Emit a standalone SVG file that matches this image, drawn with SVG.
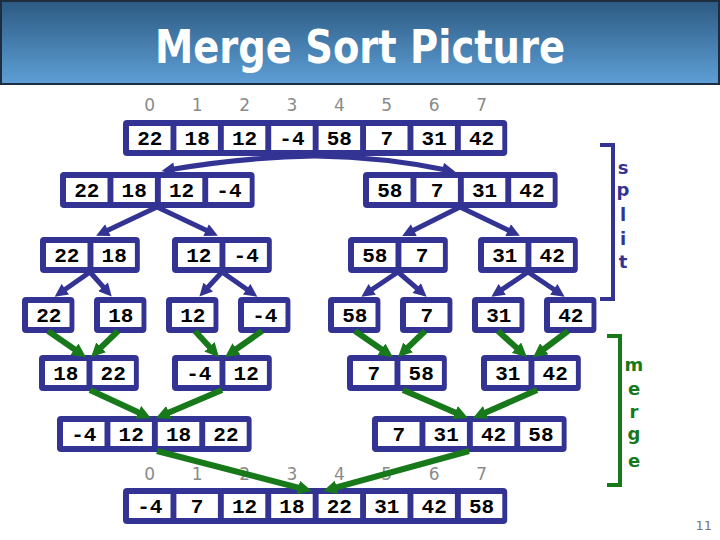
<svg xmlns="http://www.w3.org/2000/svg" width="720" height="540" viewBox="0 0 720 540">
<defs>
<linearGradient id="tb" x1="0" y1="0" x2="0" y2="1">
<stop offset="0" stop-color="#2c5a82"/>
<stop offset="1" stop-color="#5e9fd6"/>
</linearGradient>
<marker id="an" viewBox="0 0 10 10" refX="5" refY="5" markerWidth="14" markerHeight="13" markerUnits="userSpaceOnUse" orient="auto">
<path d="M0,0 L10,5 L0,10 z" fill="#333394"/>
</marker>
<marker id="ag" viewBox="0 0 10 10" refX="5" refY="5" markerWidth="14" markerHeight="14" markerUnits="userSpaceOnUse" orient="auto">
<path d="M0,0 L10,5 L0,10 z" fill="#18791b"/>
</marker>
</defs>
<style>
.o{fill:#333394}
.w{fill:#fff}
.n{font-family:"Liberation Mono","Courier New",monospace;font-weight:bold;font-size:21px;fill:#000;text-anchor:middle}
.ix{font-family:"DejaVu Sans",Verdana,sans-serif;font-size:17px;fill:#8a8a8a;text-anchor:middle}
.sp{stroke:#333394;stroke-width:5;fill:none}
.mg{stroke:#18791b;stroke-width:6;fill:none}
.lbl{font-family:"DejaVu Sans",Verdana,sans-serif;font-weight:bold;font-size:18px;text-anchor:middle}
</style>
<rect width="720" height="540" fill="#fff"/>
<g id="title">
<rect x="1" y="1" width="718" height="83" fill="url(#tb)" stroke="#1d2c3e" stroke-width="2"/>
<text x="360" y="63" font-family="'DejaVu Sans Condensed','DejaVu Sans',sans-serif" font-stretch="condensed" font-weight="bold" font-size="47" fill="#fff" text-anchor="middle" textLength="410" lengthAdjust="spacingAndGlyphs">Merge Sort Picture</text>
</g>

<g id="top-index" class="ix">
<text x="149.75" y="111">0</text><text x="197.15" y="111">1</text><text x="244.55" y="111">2</text><text x="291.95" y="111">3</text><text x="339.35" y="111">4</text><text x="386.75" y="111">5</text><text x="434.15" y="111">6</text><text x="481.55" y="111">7</text>
</g>

<g id="arr-top" transform="translate(123,120)">
<rect class="o" width="384.2" height="36" rx="4"/>
<rect class="w" x="6" y="6" width="41.5" height="24"/><rect class="w" x="53.4" y="6" width="41.5" height="24"/><rect class="w" x="100.8" y="6" width="41.5" height="24"/><rect class="w" x="148.2" y="6" width="41.5" height="24"/><rect class="w" x="195.6" y="6" width="41.5" height="24"/><rect class="w" x="243" y="6" width="41.5" height="24"/><rect class="w" x="290.4" y="6" width="41.5" height="24"/><rect class="w" x="337.8" y="6" width="41.5" height="24"/>
<text class="n" x="26.75" y="24.5">22</text><text class="n" x="74.15" y="24.5">18</text><text class="n" x="121.55" y="24.5">12</text><text class="n" x="168.95" y="24.5">-4</text><text class="n" x="216.35" y="24.5">58</text><text class="n" x="263.75" y="24.5">7</text><text class="n" x="311.15" y="24.5">31</text><text class="n" x="358.55" y="24.5">42</text>
</g>

<g id="arr-L4" transform="translate(60,172)">
<rect class="o" width="194.6" height="36" rx="4"/>
<rect class="w" x="6" y="6" width="41.5" height="24"/><rect class="w" x="53.4" y="6" width="41.5" height="24"/><rect class="w" x="100.8" y="6" width="41.5" height="24"/><rect class="w" x="148.2" y="6" width="41.5" height="24"/>
<text class="n" x="26.75" y="24.5">22</text><text class="n" x="74.15" y="24.5">18</text><text class="n" x="121.55" y="24.5">12</text><text class="n" x="168.95" y="24.5">-4</text>
</g>
<g id="arr-R4" transform="translate(363,172)">
<rect class="o" width="194.6" height="36" rx="4"/>
<rect class="w" x="6" y="6" width="41.5" height="24"/><rect class="w" x="53.4" y="6" width="41.5" height="24"/><rect class="w" x="100.8" y="6" width="41.5" height="24"/><rect class="w" x="148.2" y="6" width="41.5" height="24"/>
<text class="n" x="26.75" y="24.5">58</text><text class="n" x="74.15" y="24.5">7</text><text class="n" x="121.55" y="24.5">31</text><text class="n" x="168.95" y="24.5">42</text>
</g>

<g id="arr-22-18" transform="translate(40,237)">
<rect class="o" width="99.8" height="36" rx="4"/>
<rect class="w" x="6" y="6" width="41.5" height="24"/><rect class="w" x="53.4" y="6" width="41.5" height="24"/>
<text class="n" x="26.75" y="24.5">22</text><text class="n" x="74.15" y="24.5">18</text>
</g>
<g id="arr-12-m4" transform="translate(172,237)">
<rect class="o" width="99.8" height="36" rx="4"/>
<rect class="w" x="6" y="6" width="41.5" height="24"/><rect class="w" x="53.4" y="6" width="41.5" height="24"/>
<text class="n" x="26.75" y="24.5">12</text><text class="n" x="74.15" y="24.5">-4</text>
</g>
<g id="arr-58-7" transform="translate(348,237)">
<rect class="o" width="99.8" height="36" rx="4"/>
<rect class="w" x="6" y="6" width="41.5" height="24"/><rect class="w" x="53.4" y="6" width="41.5" height="24"/>
<text class="n" x="26.75" y="24.5">58</text><text class="n" x="74.15" y="24.5">7</text>
</g>
<g id="arr-31-42" transform="translate(478,237)">
<rect class="o" width="99.8" height="36" rx="4"/>
<rect class="w" x="6" y="6" width="41.5" height="24"/><rect class="w" x="53.4" y="6" width="41.5" height="24"/>
<text class="n" x="26.75" y="24.5">31</text><text class="n" x="74.15" y="24.5">42</text>
</g>

<g id="s-22" transform="translate(22,297)"><rect class="o" width="52.4" height="36" rx="4"/><rect class="w" x="6" y="6" width="41.5" height="24"/><text class="n" x="26.75" y="24.5">22</text></g>
<g id="s-18" transform="translate(94,297)"><rect class="o" width="52.4" height="36" rx="4"/><rect class="w" x="6" y="6" width="41.5" height="24"/><text class="n" x="26.75" y="24.5">18</text></g>
<g id="s-12" transform="translate(166,297)"><rect class="o" width="52.4" height="36" rx="4"/><rect class="w" x="6" y="6" width="41.5" height="24"/><text class="n" x="26.75" y="24.5">12</text></g>
<g id="s-m4" transform="translate(238,297)"><rect class="o" width="52.4" height="36" rx="4"/><rect class="w" x="6" y="6" width="41.5" height="24"/><text class="n" x="26.75" y="24.5">-4</text></g>
<g id="s-58" transform="translate(328,297)"><rect class="o" width="52.4" height="36" rx="4"/><rect class="w" x="6" y="6" width="41.5" height="24"/><text class="n" x="26.75" y="24.5">58</text></g>
<g id="s-7" transform="translate(400,297)"><rect class="o" width="52.4" height="36" rx="4"/><rect class="w" x="6" y="6" width="41.5" height="24"/><text class="n" x="26.75" y="24.5">7</text></g>
<g id="s-31" transform="translate(472,297)"><rect class="o" width="52.4" height="36" rx="4"/><rect class="w" x="6" y="6" width="41.5" height="24"/><text class="n" x="26.75" y="24.5">31</text></g>
<g id="s-42" transform="translate(544,297)"><rect class="o" width="52.4" height="36" rx="4"/><rect class="w" x="6" y="6" width="41.5" height="24"/><text class="n" x="26.75" y="24.5">42</text></g>

<g id="m-18-22" transform="translate(39,355)">
<rect class="o" width="99.8" height="36" rx="4"/>
<rect class="w" x="6" y="6" width="41.5" height="24"/><rect class="w" x="53.4" y="6" width="41.5" height="24"/>
<text class="n" x="26.75" y="24.5">18</text><text class="n" x="74.15" y="24.5">22</text>
</g>
<g id="m-m4-12" transform="translate(172,355)">
<rect class="o" width="99.8" height="36" rx="4"/>
<rect class="w" x="6" y="6" width="41.5" height="24"/><rect class="w" x="53.4" y="6" width="41.5" height="24"/>
<text class="n" x="26.75" y="24.5">-4</text><text class="n" x="74.15" y="24.5">12</text>
</g>
<g id="m-7-58" transform="translate(347,355)">
<rect class="o" width="99.8" height="36" rx="4"/>
<rect class="w" x="6" y="6" width="41.5" height="24"/><rect class="w" x="53.4" y="6" width="41.5" height="24"/>
<text class="n" x="26.75" y="24.5">7</text><text class="n" x="74.15" y="24.5">58</text>
</g>
<g id="m-31-42" transform="translate(481,355)">
<rect class="o" width="99.8" height="36" rx="4"/>
<rect class="w" x="6" y="6" width="41.5" height="24"/><rect class="w" x="53.4" y="6" width="41.5" height="24"/>
<text class="n" x="26.75" y="24.5">31</text><text class="n" x="74.15" y="24.5">42</text>
</g>

<g id="m-L4" transform="translate(57,416)">
<rect class="o" width="194.6" height="36" rx="4"/>
<rect class="w" x="6" y="6" width="41.5" height="24"/><rect class="w" x="53.4" y="6" width="41.5" height="24"/><rect class="w" x="100.8" y="6" width="41.5" height="24"/><rect class="w" x="148.2" y="6" width="41.5" height="24"/>
<text class="n" x="26.75" y="24.5">-4</text><text class="n" x="74.15" y="24.5">12</text><text class="n" x="121.55" y="24.5">18</text><text class="n" x="168.95" y="24.5">22</text>
</g>
<g id="m-R4" transform="translate(372,416)">
<rect class="o" width="194.6" height="36" rx="4"/>
<rect class="w" x="6" y="6" width="41.5" height="24"/><rect class="w" x="53.4" y="6" width="41.5" height="24"/><rect class="w" x="100.8" y="6" width="41.5" height="24"/><rect class="w" x="148.2" y="6" width="41.5" height="24"/>
<text class="n" x="26.75" y="24.5">7</text><text class="n" x="74.15" y="24.5">31</text><text class="n" x="121.55" y="24.5">42</text><text class="n" x="168.95" y="24.5">58</text>
</g>

<g id="bottom-index" class="ix">
<text x="149.75" y="480">0</text><text x="197.15" y="480">1</text><text x="244.55" y="480">2</text><text x="291.95" y="480">3</text><text x="339.35" y="480">4</text><text x="386.75" y="480">5</text><text x="434.15" y="480">6</text><text x="481.55" y="480">7</text>
</g>

<g id="arr-sorted" transform="translate(123,488)">
<rect class="o" width="384.2" height="36" rx="4"/>
<rect class="w" x="6" y="6" width="41.5" height="24"/><rect class="w" x="53.4" y="6" width="41.5" height="24"/><rect class="w" x="100.8" y="6" width="41.5" height="24"/><rect class="w" x="148.2" y="6" width="41.5" height="24"/><rect class="w" x="195.6" y="6" width="41.5" height="24"/><rect class="w" x="243" y="6" width="41.5" height="24"/><rect class="w" x="290.4" y="6" width="41.5" height="24"/><rect class="w" x="337.8" y="6" width="41.5" height="24"/>
<text class="n" x="26.75" y="24.5">-4</text><text class="n" x="74.15" y="24.5">7</text><text class="n" x="121.55" y="24.5">12</text><text class="n" x="168.95" y="24.5">18</text><text class="n" x="216.35" y="24.5">22</text><text class="n" x="263.75" y="24.5">31</text><text class="n" x="311.15" y="24.5">42</text><text class="n" x="358.55" y="24.5">58</text>
</g>

<g id="connectors">
<g class="sp" marker-end="url(#an)">
<path d="M315,156 Q245,157 168,170"/>
<path d="M315,156 Q385,157 449,170.5"/>
<path d="M157,207 L102,233"/>
<path d="M157,207 L212,233"/>
<path d="M460,207 L408,233"/>
<path d="M460,207 L514,233"/>
<path d="M90,272 L60,293"/>
<path d="M90,272 L107.4,291.7"/>
<path d="M222,272 L203.8,291.8"/>
<path d="M222,272 L252,293"/>
<path d="M398,272 L366.8,293"/>
<path d="M398,272 L421.7,292.4"/>
<path d="M528,272 L496.8,293"/>
<path d="M528,272 L559.2,293"/>
</g>
<g class="mg" marker-end="url(#ag)">
<path d="M48,331 L80.2,353.2"/>
<path d="M118,331 L96.1,352.2"/>
<path d="M195,331 L214.2,352"/>
<path d="M262,331 L230.8,353"/>
<path d="M355,331 L387.2,353.2"/>
<path d="M425,331 L403.1,352.2"/>
<path d="M498,331 L521.7,352.4"/>
<path d="M568,331 L538.7,353"/>
<path d="M90,390 L144.6,415.2"/>
<path d="M222,390 L162.5,415.3"/>
<path d="M403,390 L461.5,415.3"/>
<path d="M537,390 L479.4,415.3"/>
<path d="M157,451 L305,489.3"/>
<path d="M469,451 L330,489.2"/>
</g>
</g>

<g id="split-bracket">
<path d="M600,145 H613 V299 H600" fill="none" stroke="#333394" stroke-width="4"/>
<g class="lbl" fill="#333394">
<text x="623" y="174">s</text><text x="623" y="196">p</text><text x="623" y="221">l</text><text x="623" y="245">i</text><text x="623" y="268">t</text>
</g>
</g>
<g id="merge-bracket">
<path d="M607,336 H620 V485 H607" fill="none" stroke="#18791b" stroke-width="4"/>
<g class="lbl" fill="#18791b">
<text x="634" y="371">m</text><text x="634" y="395">e</text><text x="634" y="418">r</text><text x="634" y="440">g</text><text x="634" y="467">e</text>
</g>
</g>
<text id="page" x="712" y="530" font-family="'DejaVu Sans',sans-serif" font-size="13" fill="#777" text-anchor="end">11</text>
</svg>
